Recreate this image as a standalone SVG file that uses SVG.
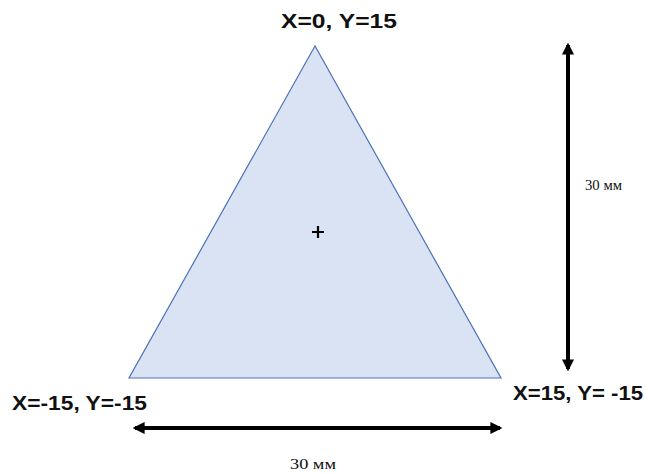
<svg xmlns="http://www.w3.org/2000/svg" width="645" height="474" viewBox="0 0 645 474">
<style>
.lbl{font-family:"Liberation Sans",Arial,sans-serif;font-weight:bold;font-size:20px;fill:#111}
.dim{font-family:"Liberation Serif","Times New Roman",serif;font-size:14px;fill:#111}
.arr{stroke:#000;stroke-width:4;fill:none}
</style>
<defs>
<marker id="ah" viewBox="0 0 10 10" refX="8" refY="5" markerWidth="3" markerHeight="3" orient="auto-start-reverse" markerUnits="strokeWidth">
<path d="M0,0 L10,5 L0,10 z" fill="#000"/>
</marker>
</defs>
<rect width="645" height="474" fill="#fff"/>
<g id="triangle">
<polygon points="315,46 129,378 501,378" fill="#dae3f3" stroke="#4a72b8" stroke-width="1.2"/>
<path d="M318,226 V238 M312,232 H324" stroke="#000" stroke-width="2.2"/>
</g>
<g id="connectors">
<line class="arr" x1="568" y1="45" x2="568" y2="369" marker-start="url(#ah)" marker-end="url(#ah)"/>
<line class="arr" x1="135" y1="428" x2="500" y2="428" marker-start="url(#ah)" marker-end="url(#ah)"/>
</g>
<g id="labels">
<text class="lbl" x="281" y="28" textLength="116" lengthAdjust="spacingAndGlyphs">X=0, Y=15</text>
<text class="lbl" x="12" y="410" textLength="135" lengthAdjust="spacingAndGlyphs">X=-15, Y=-15</text>
<text class="lbl" x="513" y="400" textLength="130" lengthAdjust="spacingAndGlyphs">X=15, Y= -15</text>
<text class="dim" x="585" y="190" textLength="37" lengthAdjust="spacingAndGlyphs">30 мм</text>
<text class="dim" x="290" y="469" textLength="46" lengthAdjust="spacingAndGlyphs">30 мм</text>
</g>
</svg>
